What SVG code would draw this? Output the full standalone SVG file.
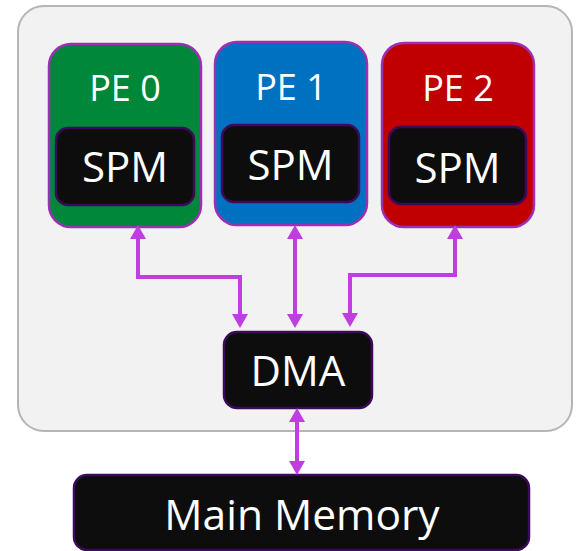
<svg xmlns="http://www.w3.org/2000/svg" width="576" height="551" viewBox="0 0 576 551">
<style>
.pe{stroke:#9b30b5;stroke-width:2.5}
.blk{fill:#0d0d0d;stroke:#3c0a5a;stroke-width:2.5}
.t{font-family:"Open Sans","Noto Sans",sans-serif;fill:#ffffff;text-anchor:middle}
.conn{fill:none;stroke:#c03ddf;stroke-width:4}
</style>
<defs>
<marker id="ah" markerUnits="userSpaceOnUse" viewBox="0 0 14 16" markerWidth="14" markerHeight="16" refX="4" refY="8" orient="auto-start-reverse">
<path d="M0,0 L14,8 L0,16 z" fill="#c03ddf"/>
</marker>
</defs>
<rect x="18" y="6" width="554" height="425" rx="26" fill="#f2f2f2" stroke="#b5b5b5" stroke-width="2"/>
<g id="pe0">
<rect class="pe" x="49" y="44" width="152" height="183" rx="22" fill="#00873a"/>
<text class="t" x="125" y="101" font-size="36">PE 0</text>
<g id="spm0"><rect class="blk" x="56" y="128" width="138" height="77" rx="12"/>
<text class="t" x="125" y="182" font-size="42">SPM</text></g>
</g>
<g id="pe1">
<rect class="pe" x="215" y="42" width="152" height="183" rx="22" fill="#0070c0"/>
<text class="t" x="291" y="100" font-size="36">PE 1</text>
<g id="spm1"><rect class="blk" x="222" y="125" width="137" height="77" rx="12"/>
<text class="t" x="290.5" y="180" font-size="42">SPM</text></g>
</g>
<g id="pe2">
<rect class="pe" x="382" y="43" width="152" height="184" rx="22" fill="#c00000"/>
<text class="t" x="458" y="101" font-size="36">PE 2</text>
<g id="spm2"><rect class="blk" x="389" y="127" width="137" height="77" rx="12"/>
<text class="t" x="457.5" y="183" font-size="42">SPM</text></g>
</g>
<g id="dma">
<rect class="blk" x="224" y="332" width="148" height="76" rx="13"/>
<text class="t" x="298" y="386" font-size="42">DMA</text>
</g>
<g id="mainmem">
<rect class="blk" x="74" y="475" width="455" height="75" rx="13"/>
<text class="t" x="302" y="530" font-size="42.5">Main Memory</text>
</g>
<g id="connectors">
<path class="conn" d="M138,235 V277 H240 V318" marker-start="url(#ah)" marker-end="url(#ah)"/>
<path class="conn" d="M295,235 V318" marker-start="url(#ah)" marker-end="url(#ah)"/>
<path class="conn" d="M455,235 V275 H350 V317" marker-start="url(#ah)" marker-end="url(#ah)"/>
<path class="conn" d="M297,418 V465" marker-start="url(#ah)" marker-end="url(#ah)"/>
</g>
</svg>
